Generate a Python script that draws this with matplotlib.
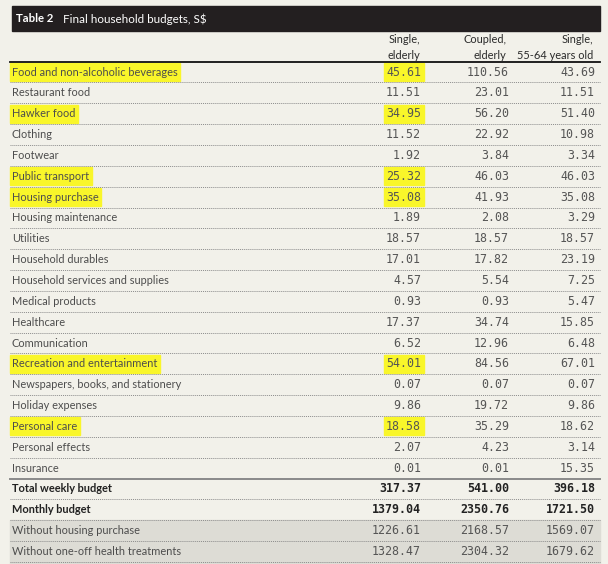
import matplotlib.pyplot as plt
from matplotlib.patches import Rectangle

title_num = "Table 2"
title_text = "Final household budgets, S$"
col_headers = ["Single,\nelderly", "Coupled,\nelderly", "Single,\n55-64 years old"]

items = ["Food and non-alcoholic beverages", "Restaurant food", "Hawker food", "Clothing",
         "Footwear", "Public transport", "Housing purchase", "Housing maintenance",
         "Utilities", "Household durables", "Household services and supplies",
         "Medical products", "Healthcare", "Communication", "Recreation and entertainment",
         "Newspapers, books, and stationery", "Holiday expenses", "Personal care",
         "Personal effects", "Insurance"]
single_elderly = [45.61, 11.51, 34.95, 11.52, 1.92, 25.32, 35.08, 1.89, 18.57, 17.01,
                  4.57, 0.93, 17.37, 6.52, 54.01, 0.07, 9.86, 18.58, 2.07, 0.01]
coupled_elderly = [110.56, 23.01, 56.20, 22.92, 3.84, 46.03, 41.93, 2.08, 18.57, 17.82,
                   5.54, 0.93, 34.74, 12.96, 84.56, 0.07, 19.72, 35.29, 4.23, 0.01]
single_55_64 = [43.69, 11.51, 51.40, 10.98, 3.34, 46.03, 35.08, 3.29, 18.57, 23.19,
                7.25, 5.47, 15.85, 6.48, 67.01, 0.07, 9.86, 18.62, 3.14, 15.35]
highlighted = ["Food and non-alcoholic beverages", "Hawker food", "Public transport",
               "Housing purchase", "Recreation and entertainment", "Personal care"]

total_labels = ["Total weekly budget", "Monthly budget", "Without housing purchase",
                "Without one-off health treatments"]
total_single_elderly = [317.37, 1379.04, 1226.61, 1328.47]
total_coupled_elderly = [541.00, 2350.76, 2168.57, 2304.32]
total_single_55_64 = [396.18, 1721.50, 1569.07, 1679.62]

bg = '#f2f1ea'
yellow = '#f9f62a'
sans = ['Lato', 'DejaVu Sans']
mono = 'DejaVu Sans Mono'

W, H = 608, 564
fig = plt.figure(figsize=(W / 100, H / 100), dpi=100, facecolor=bg)
ax = fig.add_axes([0, 0, 1, 1])
ax.set_xlim(0, W)
ax.set_ylim(H, 0)
ax.axis('off')
ax.set_facecolor(bg)

left, right = 10, 600
col_x = [421, 509, 595]
head_x = [420, 506, 593]
y0, row_h = 72, 20.85

# title bar
ax.add_patch(Rectangle((12, 6), 588, 25, color='#231f20', zorder=1))
ax.text(16, 19, title_num, color='white', fontsize=8.2, fontweight='bold',
        family=sans, va='center', zorder=2)
ax.text(63, 19, title_text, color='white', fontsize=8.4, family=sans,
        va='center', zorder=2)

# column headers
for x, h in zip(head_x, col_headers):
    ax.text(x, 47.5, h, ha='right', va='center', fontsize=7.9, family=sans,
            color='#2a2a2a', linespacing=1.45, zorder=2)
ax.plot([left, right], [61.5, 61.5], color='#111111', lw=1.3, zorder=2)

labels = items + total_labels
c1 = single_elderly + total_single_elderly
c2 = coupled_elderly + total_coupled_elderly
c3 = single_55_64 + total_single_55_64
n_items = len(items)

# shaded last two rows
ys_last = y0 + (len(labels) - 2) * row_h - row_h / 2
ax.add_patch(Rectangle((left, ys_last), right - left, H - ys_last, color='#dddcd5', zorder=0))

texts_to_mark = []
for i, lab in enumerate(labels):
    y = y0 + i * row_h
    bold = lab in ("Total weekly budget", "Monthly budget")
    fw = 'bold' if bold else 'normal'
    col = '#222222' if bold else '#4d4d4d'
    t = ax.text(12, y, lab, fontsize=7.9, family=sans, fontweight=fw, color=col,
                va='center', zorder=3)
    nums = []
    for x, v in zip(col_x, (c1[i], c2[i], c3[i])):
        nt = ax.text(x, y, f"{v:.2f}", fontsize=8.4, family=mono, fontweight=fw,
                     color='#222222' if bold else '#555555', ha='right', va='center', zorder=3)
        nums.append(nt)
    if lab in highlighted:
        texts_to_mark.append((t, y))
        texts_to_mark.append((nums[0], y))
    # separator under row
    ys = y + row_h / 2
    if i == n_items - 1:
        ax.plot([left, right], [ys, ys], color='#8a8a8a', lw=1.4, zorder=2)
    else:
        ax.plot([left, right], [ys, ys], color='#8c8c8c', lw=0.7,
                linestyle=(0, (1, 1)), zorder=2)

# yellow highlights sized to the text
fig.canvas.draw()
r = fig.canvas.get_renderer()
inv = ax.transData.inverted()
for t, y in texts_to_mark:
    bb = t.get_window_extent(renderer=r)
    (x0, _), (x1, _) = inv.transform([(bb.x0, bb.y0), (bb.x1, bb.y1)])
    ax.add_patch(Rectangle((x0 - 2.5, y - 9), x1 - x0 + 5, 18, color=yellow, zorder=1))

fig.savefig('out.png', dpi=100, facecolor=bg)
